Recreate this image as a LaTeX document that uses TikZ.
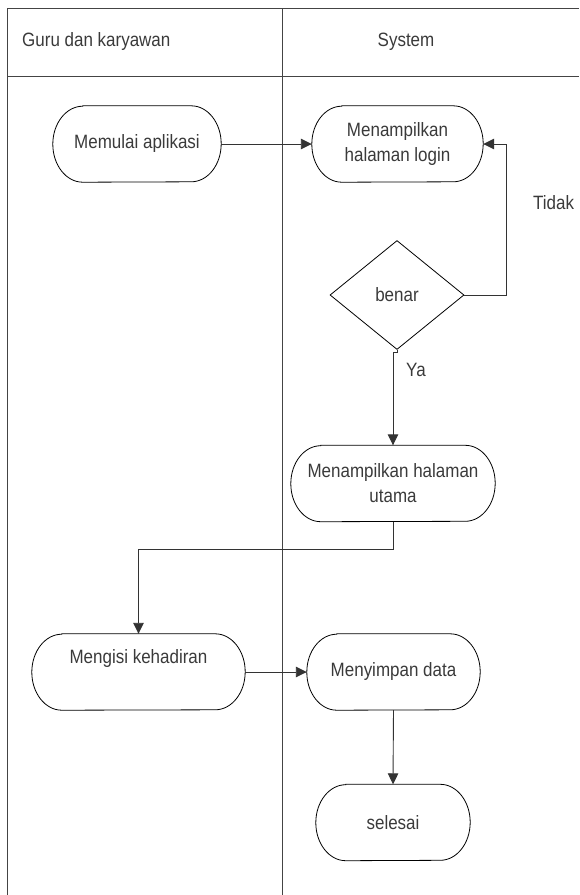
\documentclass[tikz,border=0pt]{standalone}
\usepackage{fontspec}
\setmainfont[FakeStretch=0.88]{Liberation Sans}
\usetikzlibrary{shapes.geometric,arrows.meta}
\definecolor{txt}{HTML}{3A3A3A}
\definecolor{frm}{HTML}{444444}
\definecolor{con}{HTML}{333333}
\begin{document}
\begin{tikzpicture}[x=1pt,y=1pt,
  lbl/.style={text=txt,font=\fontsize{19.3}{25}\selectfont,inner sep=0pt,align=center},
  box/.style={lbl,minimum height=76pt},
  arr/.style={draw=con,line width=0.9pt,-{Triangle[length=11pt,width=10.5pt]}},
  frame/.style={draw=frm,line width=1pt},
  outline/.style={draw=black,line width=0.8pt}]
\useasboundingbox (0,0) rectangle (579,-895);
% swimlane frame
\draw[frame] (7,-895) -- (7,-8) -- (579,-8);
\draw[frame] (7,-76) -- (579,-76);
\draw[frame] (282,-8) -- (282,-895);
\node[lbl,anchor=west] (h1) at (22,-42) {Guru dan karyawan};
\node[lbl] (h2) at (406,-42) {System};
% nodes
\node[box,minimum width=168pt] (mulai) at (137,-144) {Memulai aplikasi};
\node[box,minimum width=171pt] (login) at (397.5,-144) {Menampilkan\\halaman login};
\node[lbl,draw=black,line width=0.8pt,shape=diamond,minimum width=134pt,minimum height=109pt] (dia) at (397,-295) {benar};
\node[box,minimum width=204pt] (utama) at (393,-483.5) {Menampilkan halaman\\utama};
\node[box,minimum width=213pt] (isi) at (138.5,-672) {};
\node[lbl] (isit) at (138.5,-658) {Mengisi kehadiran};
\node[box,minimum width=173pt] (simpan) at (393.5,-672) {Menyimpan data};
\node[box,minimum width=154pt] (selesai) at (393,-822.5) {selesai};
\node[lbl,anchor=west] (tidak) at (533,-203) {Tidak};
\node[lbl,anchor=west] (ya) at (406,-370) {Ya};
% stadium outlines
\foreach \n in {mulai,login,utama,isi,simpan,selesai}{
  \draw[outline] ([xshift=30pt]\n.north west) -- ([xshift=-30pt]\n.north east)
    arc[start angle=90,end angle=-90,x radius=30pt,y radius=38pt]
    -- ([xshift=30pt]\n.south west)
    arc[start angle=270,end angle=90,x radius=30pt,y radius=38pt] -- cycle;
}
% connectors
\coordinate (r) at (506,-144);
\coordinate (j) at (393,-549);
\draw[arr] (mulai.east) -- (login.west);
\draw[arr] (dia.east) -| (r) -- (login.east);
\draw[arr] (dia.south) -- ++(0,-3) -| (utama.north);
\draw[arr] (utama.south) -- (j) -| (isi.north);
\draw[arr] (isi.east) -- (simpan.west);
\draw[arr] (simpan.south) -- (selesai.north);
\end{tikzpicture}
\end{document}
